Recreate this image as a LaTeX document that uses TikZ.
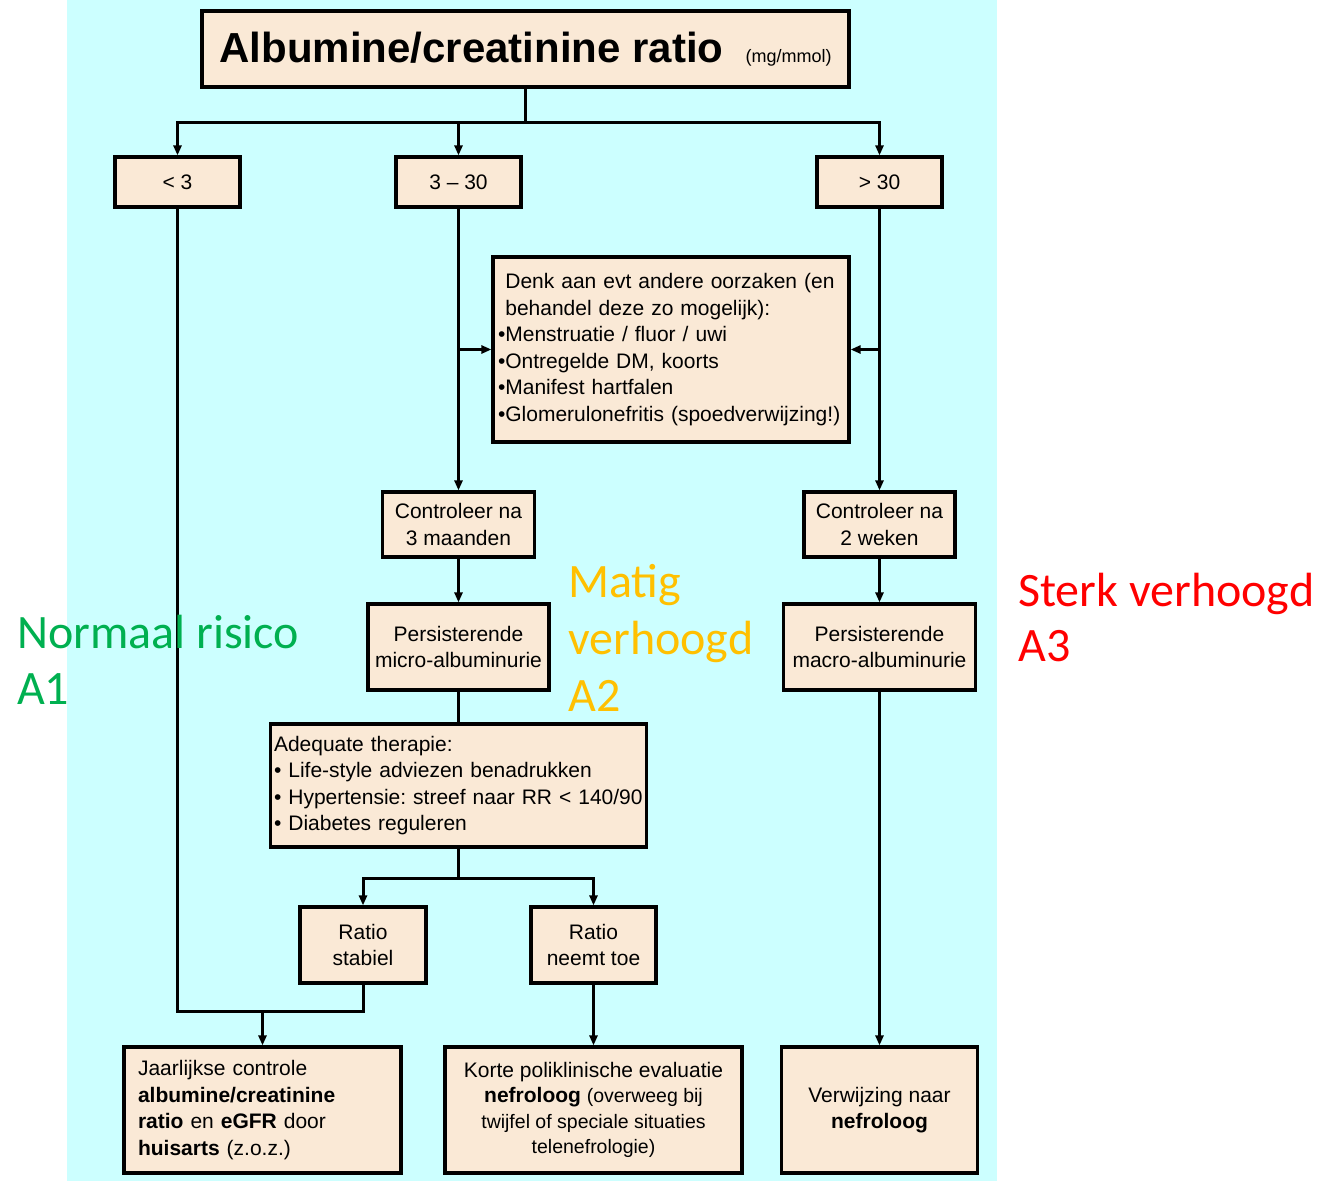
\documentclass[tikz,border=0pt]{standalone}
\usepackage{fontspec}
\setmainfont{Liberation Sans}
\newfontfamily\calib{Carlito}
\usetikzlibrary{arrows.meta}
\definecolor{bg}{RGB}{204,255,255}
\definecolor{boxfill}{RGB}{250,233,214}
\definecolor{agreen}{RGB}{0,176,80}
\definecolor{aorange}{RGB}{255,192,0}
\definecolor{ared}{RGB}{255,0,0}
\frenchspacing
\begin{document}
\begin{tikzpicture}[x=1pt,y=-1pt,
  box/.style={draw, line width=3.2pt, fill=boxfill, inner sep=0pt, align=center,
    font=\fontsize{21}{26.5}\selectfont},
  conn/.style={line width=3pt},
  arr/.style={conn, -{Triangle[length=10pt,width=8pt]}},
  lab/.style={font=\calib\fontsize{48}{57}\selectfont, anchor=base west, inner sep=0pt}]
\fill[white] (0,0) rectangle (1319,1181);
\useasboundingbox (0,0) rectangle (1319,1181);
\fill[bg] (67,0) rectangle (997,1181);

\node[box, minimum width=647, minimum height=76] (title) at (525.5,49)
  {\fontsize{42}{42}\selectfont\bfseries Albumine/creatinine ratio\hspace{22pt}\fontsize{18}{18}\selectfont\mdseries(mg/mmol)};

\node[box, minimum width=125, minimum height=50] (lt3) at (177.5,182) {< 3};
\node[box, minimum width=125, minimum height=50] (mid) at (458.5,182) {3 – 30};
\node[box, minimum width=125, minimum height=50] (gt30) at (879.5,182) {> 30};

\node[box, minimum width=356, minimum height=185, text width=346, align=left] (denk) at (671,349.5)
  {\hphantom{•}Denk aan evt andere oorzaken (en\\
   \hphantom{•}behandel deze zo mogelijk):\\
   •Menstruatie / fluor / uwi\\
   •Ontregelde DM, koorts\\
   •Manifest hartfalen\\
   •Glomerulonefritis (spoedverwijzing!)};

\node[box, minimum width=152, minimum height=65] (c3m) at (458.5,524.5) {Controleer na\\3 maanden};
\node[box, minimum width=151, minimum height=65] (c2w) at (879.5,524.5) {Controleer na\\2 weken};

\node[box, minimum width=181, minimum height=86] (micro) at (458.5,647) {Persisterende\\micro-albuminurie};
\node[box, minimum width=192, minimum height=86] (macro) at (879.5,647) {Persisterende\\macro-albuminurie};

\node[box, minimum width=376, minimum height=123, text width=369, align=left] (adeq) at (458.5,785.5)
  {Adequate therapie:\\
   • Life-style adviezen benadrukken\\
   • Hypertensie: streef naar RR < 140/90\\
   • Diabetes reguleren};

\node[box, minimum width=126, minimum height=76] (stab) at (363,945) {Ratio\\stabiel};
\node[box, minimum width=125, minimum height=76] (toe) at (593.5,945) {Ratio\\neemt toe};

\node[box, minimum width=277, minimum height=126, text width=249, align=left] (jaar) at (262.5,1110)
  {Jaarlijkse controle\\
   \textbf{albumine/creatinine}\\
   \textbf{ratio} en \textbf{eGFR} door\\
   \textbf{huisarts} (z.o.z.)};

\node[box, minimum width=297, minimum height=126, font=\fontsize{21}{25.5}\selectfont] (korte) at (593.5,1110)
  {Korte poliklinische evaluatie\\
   \textbf{nefroloog} {\fontsize{19.5}{24}\selectfont (overweeg bij}\\
   {\fontsize{19.5}{24}\selectfont twijfel of speciale situaties}\\
   {\fontsize{19.5}{24}\selectfont telenefrologie)}};

\node[box, minimum width=196, minimum height=126] (verw) at (879.5,1110)
  {Verwijzing naar\\\textbf{nefroloog}};

% connectors
\draw[conn] (title.south) -- ++(0,34) coordinate (bus);
\draw[arr] (bus) -| (lt3.north);
\draw[arr] (bus) -| (mid.north);
\draw[arr] (bus) -| (gt30.north);

\draw[arr] (mid.south) -- (c3m.north);
\draw[arr] (mid.south |- denk.west) -- (denk.west);
\draw[arr] (gt30.south) -- (c2w.north);
\draw[arr] (gt30.south |- denk.east) -- (denk.east);

\draw[arr] (c3m.south) -- (micro.north);
\draw[arr] (c2w.south) -- (macro.north);
\draw[conn] (micro.south) -- (adeq.north);

\draw[conn] (adeq.south) -- ++(0,30) coordinate (b2);
\draw[arr] (b2) -| (stab.north);
\draw[arr] (b2) -| (toe.north);

\coordinate (j) at (262.5,1011);
\draw[conn] (lt3.south) -- (lt3.south |- j) -- (stab.south |- j) -- (stab.south);
\draw[arr] (j) -- (jaar.north);
\draw[arr] (toe.south) -- (korte.north);
\draw[arr] (macro.south) -- (verw.north);

% risk labels
\node[lab, text=agreen] (n1) at (17,648) {Normaal risico};
\node[lab, text=agreen] (n2) at (17,704) {A1};
\node[lab, text=aorange] (m1) at (568,597) {Matig};
\node[lab, text=aorange] (m2) at (568,654) {verhoogd};
\node[lab, text=aorange] (m3) at (568,711) {A2};
\node[lab, text=ared] (s1) at (1018,606) {Sterk verhoogd};
\node[lab, text=ared] (s2) at (1018,661) {A3};
\end{tikzpicture}
\end{document}
